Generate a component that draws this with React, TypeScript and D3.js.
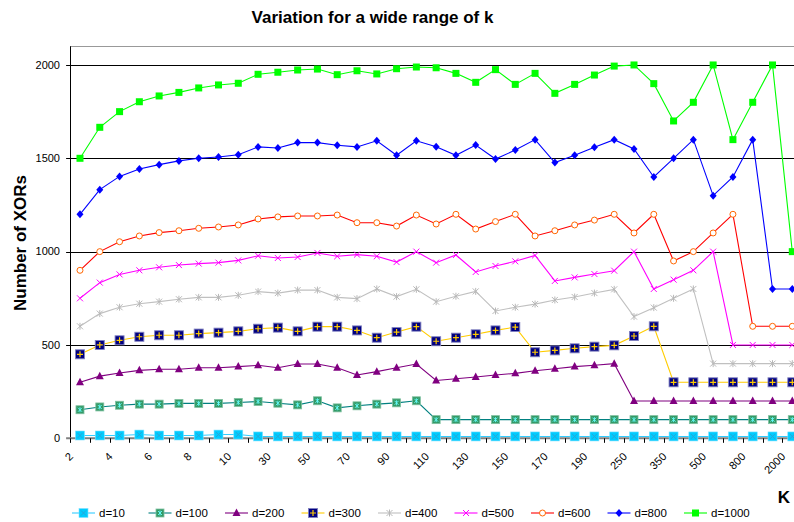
import React from 'react'
import * as d3 from 'd3'

// k values on the category axis
const kValues = [2, 3, 4, 5, 6, 7, 8, 9, 10, 20, 30, 40, 50, 60, 70, 80, 90, 100, 110, 120,
  130, 140, 150, 160, 170, 180, 190, 200, 250, 300, 350, 400, 500, 600, 800, 1000, 2000]

const yTicks = [0, 500, 1000, 1500, 2000]

const d10 = [15, 15, 15, 20, 15, 15, 15, 20, 20, 10, 10, 10, 10, 10, 10, 10, 10, 10, 10, 10,
  10, 10, 10, 10, 10, 10, 10, 10, 10, 10, 10, 10, 10, 10, 10, 10, 10]
const d100 = [153, 168, 177, 183, 183, 187, 187, 187, 192, 197, 188, 179, 201, 163, 174, 183, 190, 201,
  100, 100, 100, 100, 100, 100, 100, 100, 100, 100, 100, 100, 100, 100, 100, 100, 100, 100, 100]
const d200 = [300, 333, 350, 364, 370, 370, 378, 378, 384, 391, 378, 398, 398, 378, 339, 357, 378, 398,
  310, 319, 328, 339, 348, 362, 373, 384, 391, 400, 200, 200, 200, 200, 200, 200, 200, 200, 200]
const d300 = [450, 500, 525, 544, 552, 552, 561, 566, 573, 587, 593, 573, 598, 598, 578, 539, 569, 598,
  520, 539, 557, 578, 596, 461, 471, 482, 491, 498, 548, 600, 300, 300, 300, 300, 300, 300, 300]
const d400 = [600, 668, 702, 721, 732, 745, 755, 755, 766, 786, 778, 794, 794, 755, 748, 800, 759, 798,
  732, 761, 787, 682, 702, 719, 741, 757, 778, 798, 652, 700, 750, 800, 400, 400, 400, 400, 400]
const d500 = [750, 834, 878, 900, 916, 928, 936, 941, 953, 978, 966, 971, 993, 975, 984, 975, 944, 1000,
  941, 982, 891, 923, 948, 980, 843, 862, 880, 898, 1000, 800, 850, 900, 1000, 500, 500, 500, 500]
const d600 = [900, 1000, 1053, 1084, 1102, 1112, 1125, 1132, 1143, 1175, 1186, 1191, 1191, 1196, 1155, 1155, 1137, 1196, 1148,
  1200, 1121, 1161, 1200, 1084, 1112, 1143, 1169, 1200, 1100, 1200, 950, 1000, 1100, 1200, 600, 600, 600]
const d800 = [1200, 1332, 1403, 1443, 1466, 1486, 1500, 1507, 1519, 1561, 1555, 1584, 1584, 1570, 1561, 1594, 1516, 1594, 1562,
  1516, 1571, 1496, 1544, 1600, 1477, 1516, 1559, 1600, 1550, 1400, 1500, 1600, 1300, 1400, 1600, 800, 800]
const d1000 = [1500, 1666, 1750, 1803, 1834, 1853, 1877, 1893, 1902, 1950, 1961, 1973, 1978, 1948, 1969, 1952, 1980, 1989, 1985,
  1955, 1907, 1975, 1896, 1955, 1848, 1896, 1946, 1994, 2000, 1900, 1700, 1800, 2000, 1600, 1800, 2000, 1000]

const series = [
  { name: 'd=10', values: d10, line: '#33CCFF', marker: 'sqx' },
  { name: 'd=100', values: d100, line: '#008080', marker: 'sqstar' },
  { name: 'd=200', values: d200, line: '#800080', marker: 'tri' },
  { name: 'd=300', values: d300, line: '#FFCC00', marker: 'sqplus' },
  { name: 'd=400', values: d400, line: '#C0C0C0', marker: 'star' },
  { name: 'd=500', values: d500, line: '#FF00FF', marker: 'x' },
  { name: 'd=600', values: d600, line: '#FF0000', marker: 'circle' },
  { name: 'd=800', values: d800, line: '#0000FF', marker: 'diamond' },
  { name: 'd=1000', values: d1000, line: '#00FF00', marker: 'sq' },
]

const W = 794
const H = 522
const left = 70.1
const step = 19.786
const font = 'Arial, "Liberation Sans", sans-serif'

function Marker({ type, x, y }: { type: string; x: number; y: number }) {
  switch (type) {
    case 'sqx':
      return (
        <g>
          <rect x={x - 4.5} y={y - 4.5} width={9} height={9} fill="#00CCFF" stroke="#7fe0ff" strokeWidth={0.6} />
          <path d={`M${x - 2.5},${y - 2.5}L${x + 2.5},${y + 2.5}M${x + 2.5},${y - 2.5}L${x - 2.5},${y + 2.5}`} stroke="#2aa6d6" strokeWidth={1} />
        </g>
      )
    case 'sqstar':
      return (
        <g>
          <rect x={x - 4} y={y - 4} width={8} height={8} fill="#339966" stroke="#7fc0a0" strokeWidth={0.8} />
          <path d={`M${x - 2},${y - 2}L${x + 2},${y + 2}M${x + 2},${y - 2}L${x - 2},${y + 2}M${x},${y - 2.5}L${x},${y + 2.5}`} stroke="#66FFFF" strokeWidth={0.9} />
        </g>
      )
    case 'tri':
      return <path d={`M${x},${y - 4.5}L${x + 4},${y + 3}L${x - 4},${y + 3}Z`} fill="#800080" />
    case 'sqplus':
      return (
        <g>
          <rect x={x - 4.5} y={y - 4.5} width={9} height={9} fill="#000080" stroke="#8080c0" strokeWidth={0.9} />
          <path d={`M${x - 3},${y}L${x + 3},${y}M${x},${y - 3}L${x},${y + 3}`} stroke="#FFCC00" strokeWidth={1.2} />
        </g>
      )
    case 'star':
      return <path d={`M${x - 3},${y - 3}L${x + 3},${y + 3}M${x + 3},${y - 3}L${x - 3},${y + 3}M${x},${y - 3.5}L${x},${y + 3.5}`} stroke="#B8B8B8" strokeWidth={1} fill="none" />
    case 'x':
      return <path d={`M${x - 3},${y - 3}L${x + 3},${y + 3}M${x + 3},${y - 3}L${x - 3},${y + 3}`} stroke="#FF00FF" strokeWidth={1} fill="none" />
    case 'circle':
      return <circle cx={x} cy={y} r={3} fill="#fff" stroke="#FF6600" strokeWidth={1} />
    case 'diamond':
      return <path d={`M${x},${y - 4}L${x + 3.5},${y}L${x},${y + 4}L${x - 3.5},${y}Z`} fill="#0000FF" />
    default:
      return <rect x={x - 3.5} y={y - 3.5} width={7} height={7} fill="#00FF00" />
  }
}

export default function App() {
  const x = d3.scaleBand<number>().domain(kValues).range([left, left + kValues.length * step]).paddingInner(0).paddingOuter(0)
  const cx = (k: number) => (x(k) as number) + x.bandwidth() / 2
  const y = d3.scaleLinear().domain([0, 2100]).range([438.3, 46.3])
  const right = left + kValues.length * step

  const line = d3.line<number>()
    .x((d, i) => cx(kValues[i]))
    .y(d => y(d))

  const crisp = (v: number) => Math.round(v) + 0.5

  return (
    <svg width={W} height={H} style={{ position: 'absolute', left: 0, top: 0, background: '#fff' }} fontFamily={font}>
      <text x={372.5} y={22.7} textAnchor="middle" fontSize={17} fontWeight="bold">Variation for a wide range of k</text>

      {/* plot frame and grid */}
      <line x1={left} x2={right} y1={crisp(y(2100))} y2={crisp(y(2100))} stroke="#999" strokeWidth={1} />
      {yTicks.filter(t => t > 0).map(t => (
        <line key={t} x1={left - 4} x2={right} y1={crisp(y(t))} y2={crisp(y(t))} stroke="#000" strokeWidth={1} />
      ))}
      <line x1={crisp(left)} x2={crisp(left)} y1={y(2100)} y2={y(0) + 4} stroke="#000" strokeWidth={1} />
      <line x1={left - 4} x2={right} y1={y(0)} y2={y(0)} stroke="#808080" strokeWidth={2} />
      {d3.range(kValues.length + 1).map(i => (
        <line key={i} x1={crisp(left + i * step)} x2={crisp(left + i * step)} y1={y(0)} y2={y(0) + 4.5} stroke="#000" strokeWidth={1} />
      ))}

      {yTicks.map(t => (
        <text key={t} x={60} y={y(t)} dy="0.35em" textAnchor="end" fontSize={11}>{t}</text>
      ))}
      {kValues.filter((k, i) => i % 2 === 0).map(k => (
        <text key={k} transform={`translate(${cx(k) - 9},454.5) rotate(-45)`} dy="0.35em" textAnchor="end" fontSize={11}>{k}</text>
      ))}

      {series.map(s => (
        <g key={s.name}>
          <path d={line(s.values) as string} fill="none" stroke={s.line} strokeWidth={1.1} />
          {s.values.map((v, i) => <Marker key={i} type={s.marker} x={cx(kValues[i])} y={y(v)} />)}
        </g>
      ))}

      <text transform="translate(20.5,243) rotate(-90)" dy="0.35em" textAnchor="middle" fontSize={17} fontWeight="bold">Number of XORs</text>
      <text x={784} y={502.7} textAnchor="middle" fontSize={17} fontWeight="bold">K</text>

      {series.map((s, i) => {
        const tx = 99 + i * 76.5
        return (
          <g key={s.name}>
            <line x1={tx - 27} x2={tx - 4} y1={513} y2={513} stroke={s.line} strokeWidth={1.1} />
            <Marker type={s.marker} x={tx - 15.5} y={513} />
            <text x={tx} y={513} dy="0.35em" fontSize={11.5}>{s.name}</text>
          </g>
        )
      })}
    </svg>
  )
}
